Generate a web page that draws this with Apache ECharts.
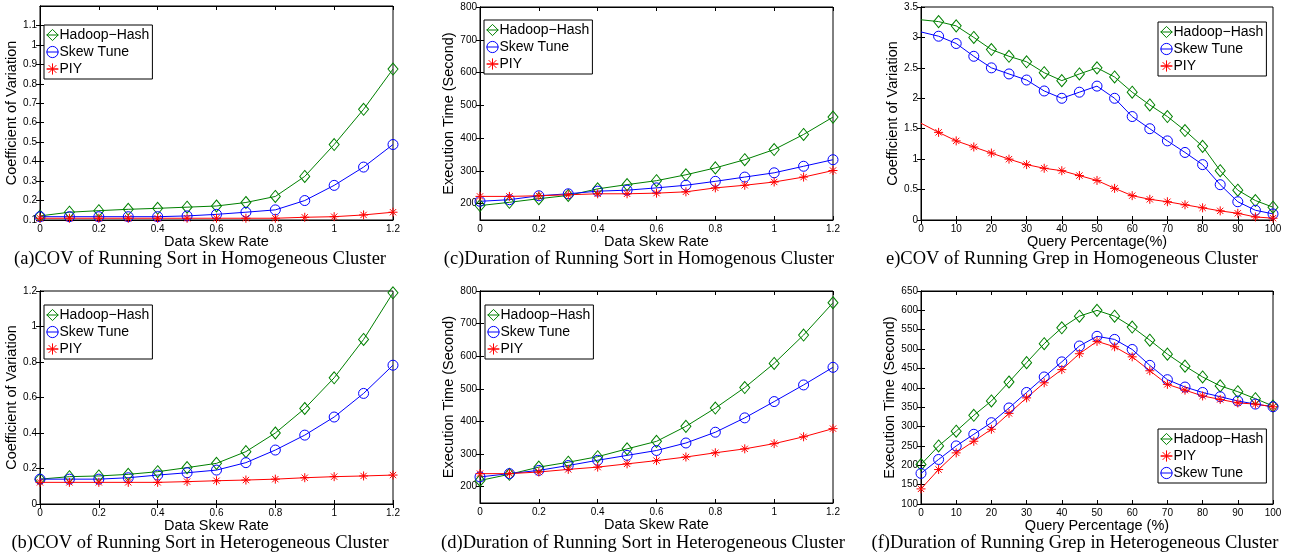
<!DOCTYPE html>
<html>
<head>
<meta charset="utf-8">
<title>Sort / Grep skew results</title>
<script src="https://cdn.jsdelivr.net/npm/echarts@6/dist/echarts.min.js"></script>
<style>
  html, body { margin: 0; padding: 0; background: #fff; }
  #main { width: 1292px; height: 552px; }
</style>
</head>
<body>
<div id="main"></div>
<script>
// x values
var skewRate = [0, 0.1, 0.2, 0.3, 0.4, 0.5, 0.6, 0.7, 0.8, 0.9, 1.0, 1.1, 1.2];
var queryPct = [0, 5, 10, 15, 20, 25, 30, 35, 40, 45, 50, 55, 60, 65, 70, 75, 80, 85, 90, 95, 100];

// (a) COV, sort, homogeneous
var covSortHomoHadoop = [0.121, 0.140, 0.148, 0.155, 0.160, 0.166, 0.172, 0.190, 0.221, 0.324, 0.488, 0.669, 0.876];
var covSortHomoSkew   = [0.117, 0.117, 0.117, 0.117, 0.117, 0.121, 0.129, 0.140, 0.152, 0.200, 0.278, 0.372, 0.488];
var covSortHomoPiy    = [0.109, 0.109, 0.109, 0.109, 0.109, 0.109, 0.109, 0.109, 0.109, 0.114, 0.117, 0.126, 0.140];

// (c) duration, sort, homogeneous
var durSortHomoHadoop = [194, 204, 215, 225, 245, 258, 270, 288, 309, 334, 365, 411, 464];
var durSortHomoSkew   = [207, 212, 224, 230, 238, 241, 248, 256, 268, 281, 294, 314, 334];
var durSortHomoPiy    = [222, 222, 224, 227, 230, 230, 232, 236, 248, 256, 266, 281, 301];

// (e) COV, grep, homogeneous
var covGrepHomoHadoop = [3.29, 3.26, 3.19, 3.0, 2.8, 2.69, 2.6, 2.42, 2.29, 2.4, 2.5, 2.35, 2.1, 1.89, 1.7, 1.47, 1.21, 0.81, 0.49, 0.32, 0.21];
var covGrepHomoSkew   = [3.09, 3.02, 2.9, 2.69, 2.5, 2.4, 2.3, 2.12, 2.0, 2.1, 2.2, 2.0, 1.7, 1.5, 1.3, 1.11, 0.91, 0.58, 0.3, 0.16, 0.1];
var covGrepHomoPiy    = [1.59, 1.44, 1.3, 1.2, 1.1, 1.0, 0.91, 0.85, 0.81, 0.73, 0.65, 0.52, 0.4, 0.34, 0.3, 0.25, 0.2, 0.15, 0.11, 0.05, 0.03];

// (b) COV, sort, heterogeneous
var covSortHeteHadoop = [0.14, 0.154, 0.158, 0.167, 0.182, 0.205, 0.229, 0.295, 0.40, 0.538, 0.711, 0.927, 1.19];
var covSortHeteSkew   = [0.14, 0.14, 0.14, 0.148, 0.163, 0.176, 0.191, 0.233, 0.304, 0.388, 0.49, 0.623, 0.782];
var covSortHetePiy    = [0.122, 0.122, 0.122, 0.122, 0.122, 0.126, 0.131, 0.135, 0.14, 0.148, 0.154, 0.158, 0.163];

// (d) duration, sort, heterogeneous
var durSortHeteHadoop = [219, 238, 260, 275, 292, 316, 339, 385, 441, 504, 578, 665, 764];
var durSortHeteSkew   = [230, 240, 250, 265, 281, 296, 311, 334, 367, 411, 461, 512, 566];
var durSortHetePiy    = [240, 240, 245, 253, 260, 270, 280, 291, 304, 316, 332, 353, 378];

// (f) duration, grep, heterogeneous
var durGrepHeteHadoop = [202, 250, 288, 329, 366, 415, 465, 514, 555, 585, 600, 585, 557, 523, 487, 456, 428, 405, 390, 372, 353];
var durGrepHeteSkew   = [179, 215, 250, 280, 310, 348, 388, 428, 467, 508, 533, 525, 499, 458, 421, 402, 388, 377, 366, 358, 351];
var durGrepHetePiy    = [139, 189, 232, 262, 293, 334, 374, 413, 447, 488, 520, 506, 480, 444, 409, 394, 379, 370, 361, 358, 351];

var HADOOP = 'Hadoop\u2212Hash';
var SKEW = 'Skew Tune';
var PIY = 'PIY';

var GREEN = '#008000', BLUE = '#0000ff', RED = '#ff0000';
var STAR = 'path://M5,0L5,10M0,5L10,5M1.5,1.5L8.5,8.5M1.5,8.5L8.5,1.5';

var style = {};
style[HADOOP] = {color: GREEN, symbol: 'diamond', size: [10, 12]};
style[SKEW] = {color: BLUE, symbol: 'circle', size: 10};
style[PIY] = {color: RED, symbol: STAR, size: 9};

function pairs(xs, ys, skipFirstMarker) {
    return ys.map(function (v, i) {
        var d = {value: [xs[i], v]};
        if (skipFirstMarker && i === 0) {
            d.symbol = 'none';
            d.symbolSize = 0;
        }
        return d;
    });
}

function mkSeries(name, idx, xs, ys, skipFirst) {
    var s = style[name];
    return {
        name: name,
        type: 'line',
        xAxisIndex: idx,
        yAxisIndex: idx,
        data: pairs(xs, ys, skipFirst),
        symbol: s.symbol,
        symbolSize: s.size,
        showAllSymbol: true,
        animation: false,
        lineStyle: {color: s.color, width: 1},
        itemStyle: {color: 'rgba(0,0,0,0)', borderColor: s.color, borderWidth: 1},
        emphasis: {disabled: true}
    };
}

var grids = [
    {left: 40, top: 6, width: 353, height: 214},    // a
    {left: 480, top: 7, width: 353, height: 213},   // c
    {left: 921, top: 7, width: 352, height: 213},   // e
    {left: 40, top: 291, width: 353, height: 213},  // b
    {left: 480, top: 291, width: 353, height: 212}, // d
    {left: 921, top: 291, width: 352, height: 213}  // f
];

var tickFont = {fontFamily: 'Liberation Sans', fontSize: 10, color: '#000'};
var nameFont = {fontFamily: 'Liberation Sans', fontSize: 14.5, color: '#000'};

function xAxisFor(idx, name, max, interval) {
    return {
        type: 'value', gridIndex: idx, min: 0, max: max, interval: interval,
        name: name, nameLocation: 'middle', nameGap: 11, nameTextStyle: nameFont,
        axisLine: {lineStyle: {color: '#000', width: 1}},
        axisTick: {inside: true, length: 4, lineStyle: {color: '#000'}},
        axisLabel: Object.assign({margin: 4}, tickFont),
        splitLine: {show: false}
    };
}

function yAxisFor(idx, name, min, max, interval, labels, gap) {
    var ax = {
        type: 'value', gridIndex: idx, min: min, max: max, interval: interval,
        name: name, nameLocation: 'middle', nameGap: gap, nameTextStyle: nameFont,
        axisLine: {lineStyle: {color: '#000', width: 1}},
        axisTick: {inside: true, length: 4, lineStyle: {color: '#000'}},
        axisLabel: Object.assign({margin: 3}, tickFont),
        splitLine: {show: false}
    };
    if (labels) {
        ax.axisLabel.customValues = labels;
        ax.axisTick.customValues = labels;
    }
    return ax;
}

// mirrored tick marks on the top and right edges of each box
function mirror(ax, pos) {
    var m = JSON.parse(JSON.stringify(ax));
    m.position = pos;
    m.name = '';
    m.axisLabel.show = false;
    return m;
}

var durLabels = [200, 300, 400, 500, 600, 700, 800];
var covLabelsA = [0.1, 0.2, 0.3, 0.4, 0.5, 0.6, 0.7, 0.8, 0.9, 1, 1.1];

var xAxes = [
    xAxisFor(0, 'Data Skew Rate', 1.2, 0.2),
    xAxisFor(1, 'Data Skew Rate', 1.2, 0.2),
    xAxisFor(2, 'Query Percentage(%)', 100, 10),
    xAxisFor(3, 'Data Skew Rate', 1.2, 0.2),
    xAxisFor(4, 'Data Skew Rate', 1.2, 0.2),
    xAxisFor(5, 'Query Percentage (%)', 100, 10)
];

var yAxes = [
    yAxisFor(0, 'Coefficient of Variation', 0.1, 1.2, 0.1, covLabelsA, 13),
    yAxisFor(1, 'Execution Time (Second)', 150, 800, 50, durLabels, 14),
    yAxisFor(2, 'Coefficient of Variation', 0, 3.5, 0.5, null, 13),
    yAxisFor(3, 'Coefficient of Variation', 0, 1.2, 0.2, null, 13),
    yAxisFor(4, 'Execution Time (Second)', 150, 800, 50, durLabels, 14),
    yAxisFor(5, 'Execution Time (Second)', 100, 650, 50, null, 17)
];

xAxes = xAxes.concat(xAxes.map(function (a) { return mirror(a, 'top'); }));
yAxes = yAxes.concat(yAxes.map(function (a) { return mirror(a, 'right'); }));

var series = [
    mkSeries(HADOOP, 0, skewRate, covSortHomoHadoop),
    mkSeries(SKEW, 0, skewRate, covSortHomoSkew),
    mkSeries(PIY, 0, skewRate, covSortHomoPiy),
    mkSeries(HADOOP, 1, skewRate, durSortHomoHadoop),
    mkSeries(SKEW, 1, skewRate, durSortHomoSkew),
    mkSeries(PIY, 1, skewRate, durSortHomoPiy),
    mkSeries(HADOOP, 2, queryPct, covGrepHomoHadoop, true),
    mkSeries(SKEW, 2, queryPct, covGrepHomoSkew, true),
    mkSeries(PIY, 2, queryPct, covGrepHomoPiy, true),
    mkSeries(HADOOP, 3, skewRate, covSortHeteHadoop),
    mkSeries(SKEW, 3, skewRate, covSortHeteSkew),
    mkSeries(PIY, 3, skewRate, covSortHetePiy),
    mkSeries(HADOOP, 4, skewRate, durSortHeteHadoop),
    mkSeries(SKEW, 4, skewRate, durSortHeteSkew),
    mkSeries(PIY, 4, skewRate, durSortHetePiy),
    mkSeries(HADOOP, 5, queryPct, durGrepHeteHadoop),
    mkSeries(SKEW, 5, queryPct, durGrepHeteSkew),
    mkSeries(PIY, 5, queryPct, durGrepHetePiy)
];

function legendAt(left, top, names) {
    return {
        left: left, top: top, orient: 'vertical',
        data: names,
        selectedMode: false,
        backgroundColor: '#fff',
        borderColor: '#000', borderWidth: 1, borderRadius: 0,
        padding: [3, 3, 3, 2],
        itemWidth: 12, itemHeight: 14, itemGap: 3,
        itemStyle: {color: 'rgba(0,0,0,0)', borderWidth: 1},
        lineStyle: {width: 1},
        textStyle: {fontFamily: 'Liberation Sans', fontSize: 14, color: '#000', padding: [0, 0, 0, -4]}
    };
}

var legends = [
    legendAt(44, 25, [HADOOP, SKEW, PIY]),
    legendAt(484, 20, [HADOOP, SKEW, PIY]),
    legendAt(1158, 22, [HADOOP, SKEW, PIY]),
    legendAt(44, 305, [HADOOP, SKEW, PIY]),
    legendAt(485, 305, [HADOOP, SKEW, PIY]),
    legendAt(1158, 429, [HADOOP, PIY, SKEW])
];

var captions = [
    {x: 200, y: 259, text: '(a)COV of Running Sort in Homogeneous Cluster'},
    {x: 639, y: 259, text: '(c)Duration of Running Sort in Homogenous Cluster'},
    {x: 1072, y: 259, text: 'e)COV of Running Grep in Homogeneous Cluster'},
    {x: 200, y: 543, text: '(b)COV of Running Sort in Heterogeneous Cluster'},
    {x: 643, y: 543, text: '(d)Duration of Running Sort in Heterogeneous Cluster'},
    {x: 1075, y: 543, text: '(f)Duration of Running Grep in Heterogeneous Cluster'}
];

var graphics = captions.map(function (c) {
    return {
        type: 'text', x: c.x, y: c.y, silent: true,
        style: {
            text: c.text, fill: '#000',
            font: '18.5px "Liberation Serif"',
            textAlign: 'center', textVerticalAlign: 'middle'
        }
    };
});

var option = {
    backgroundColor: '#fff',
    animation: false,
    grid: grids.map(function (g) {
        return Object.assign({show: true, borderColor: '#000', borderWidth: 1, backgroundColor: '#fff', containLabel: false}, g);
    }),
    xAxis: xAxes,
    yAxis: yAxes,
    legend: legends,
    series: series,
    graphic: graphics
};

var myChart = echarts.init(document.getElementById('main'));
myChart.setOption(option);
</script>
</body>
</html>
